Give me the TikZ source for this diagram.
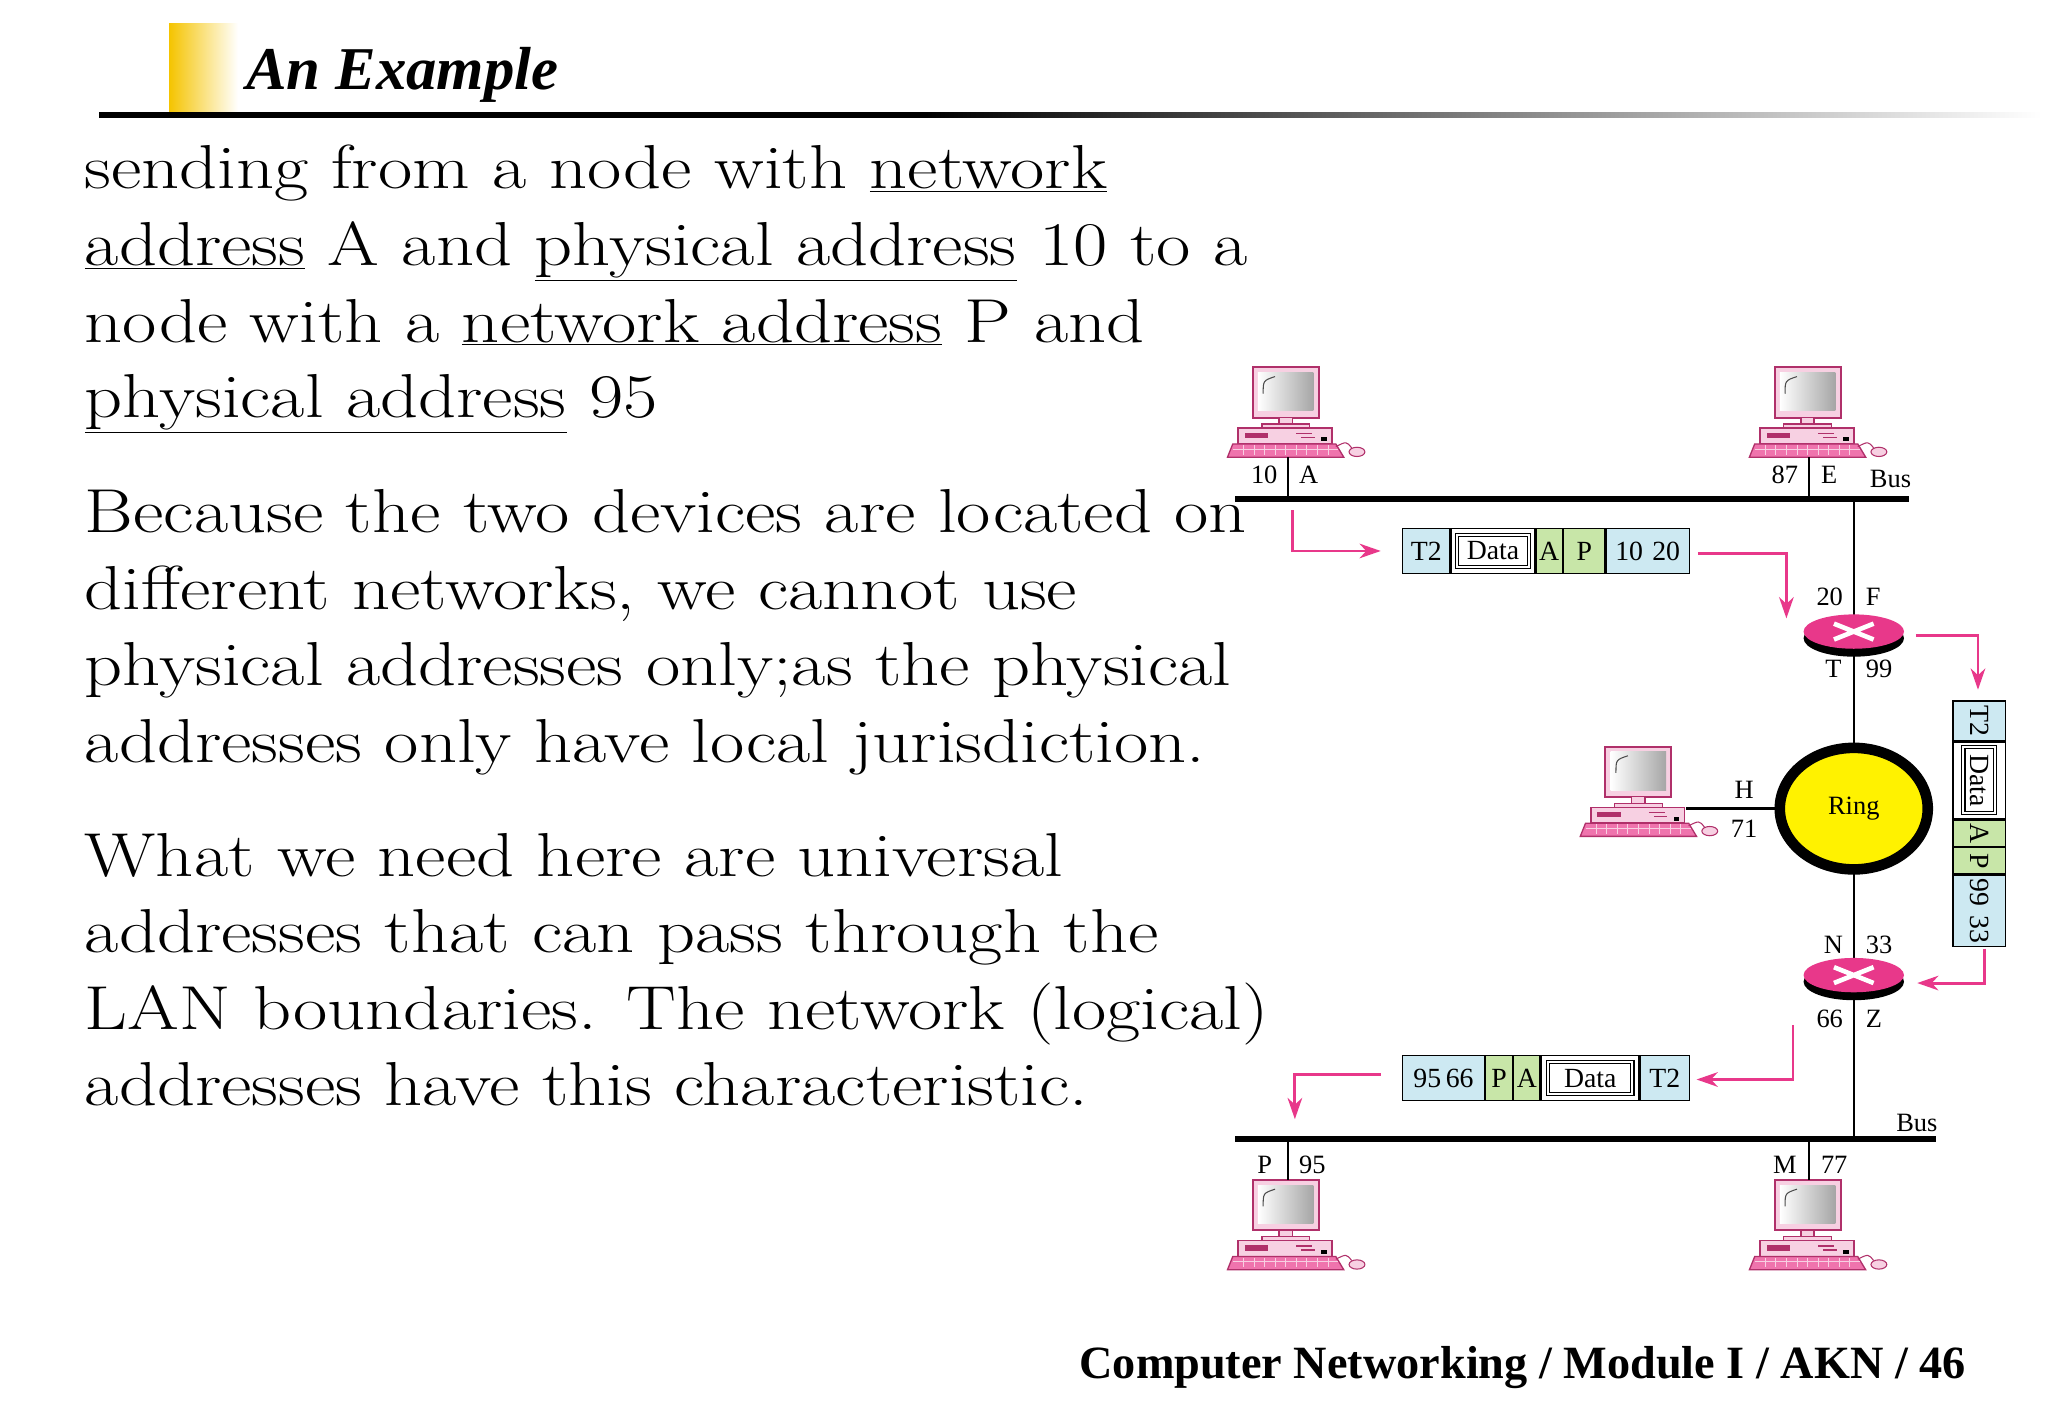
\documentclass[tikz,border=0pt]{standalone}
\usepackage{fontspec}
\usetikzlibrary{arrows.meta,shapes.geometric}
\newfontfamily\tms{Liberation Serif}
\newfontfamily\wide[FakeStretch=1.2]{Latin Modern Roman}
\definecolor{pk}{HTML}{E8388A}
\definecolor{pkd}{HTML}{B0306A}
\definecolor{pkl}{HTML}{F7D0E2}
\definecolor{lb}{HTML}{CDE9F2}
\definecolor{gr}{HTML}{C8E6A8}
\definecolor{gold}{HTML}{F5C400}
\tikzset{
 body/.style={anchor=base west,inner sep=0,font=\wide\fontsize{47}{50}\selectfont},
 lbl/.style={inner sep=0,font=\tms\fontsize{20}{22}\selectfont},
 cell/.style={draw,line width=1,minimum height=34,inner sep=0,anchor=west,font=\tms\fontsize{21}{22}\selectfont},
 vcell/.style={draw,line width=1,minimum width=40,inner sep=0,anchor=north,font=\tms\fontsize{21}{22}\selectfont},
 dbox/.style={draw,double,double distance=1.5,inner sep=0,line width=0.8,font=\tms\fontsize{21}{22}\selectfont},
 arr/.style={pk,line width=2.2,-{Stealth[length=16,width=11,inset=5]}},
 bus/.style={line width=4.5},
 wire/.style={line width=1.8},
 computer/.pic={
  \draw[pkd,line width=1.5,fill=pkl] (-25,0) rectangle (25,38);
  \shade[left color=white,right color=gray!70] (-21,4) rectangle (21,33);
  \draw[gray!60!black,line width=0.8] (-17,20) .. controls (-17,10) .. (-8,7);
  \draw[pkd,fill=pkl,line width=1] (-5,38) rectangle (5,43);
  \draw[pkd,fill=pkl,line width=1] (-18,43) rectangle (18,46);
  \draw[pkd,fill=pkl,line width=1.2] (-36,46) rectangle (35,58);
  \fill[pkd] (-31,49.5) rectangle (-13,53.5);
  \draw[pkd,line width=1] (8,50) -- (20,50) (12,53) -- (22,53);
  \fill[black] (27,53) rectangle (31,56);
  \draw[pkd,fill=pk!70,line width=1] (-40,58) -- (38,58) -- (44,68) -- (-44,68) -- cycle;
  \foreach \k in {-32,-24,...,32} \draw[pkl,line width=0.6] (\k,59) -- (\k,66);
  \draw[pkl,line width=0.6] (-40,62) -- (40,62);
  \draw[pkd,line width=0.8] (38,60) .. controls (46,56) .. (50,61);
  \draw[pkd,fill=pkl,line width=0.8] (54,64) ellipse [x radius=6,y radius=3.5];
 },
 router/.pic={
  \fill[black] (0,5) ellipse [x radius=38,y radius=14];
  \fill[pk] (0,0) ellipse [x radius=38,y radius=13];
  \draw[white,line width=3.5] (-15,-6) -- (15,6) (-15,6) -- (15,-6);
 }
}
\begin{document}
\begin{tikzpicture}[x=1pt,y=-1pt]
\useasboundingbox (0,0) rectangle (1550,1073);
\fill[white] (0,0) rectangle (1550,1073);
% title
\shade[left color=gold,right color=white] (128,18) rectangle (180,88);
\fill[black] (75,85) rectangle (700,89);
\shade[left color=black,right color=white] (700,85) rectangle (1545,89);
\node[anchor=base west,inner sep=0,font=\tms\bfseries\itshape\fontsize{46}{50}\selectfont] (title) at (186,68) {An Example};
% body
\node[body] (l1) at (64,143) {sending from a node with \underline{network}};
\node[body] (l2) at (64,201) {\underline{address} A and \underline{physical address} 10 to a};
\node[body] (l3) at (64,259) {node with a \underline{network address} P and};
\node[body] (l4) at (64,316) {\underline{physical address} 95};
\node[body] (l5) at (64,403) {Because the two devices are located on};
\node[body] (l6) at (64,461) {different networks, we cannot use};
\node[body] (l7) at (64,519) {physical addresses only;as the physical};
\node[body] (l8) at (64,577) {addresses only have local jurisdiction.};
\node[body] (l9) at (64,663) {What we need here are universal};
\node[body] (l10) at (64,721) {addresses that can pass through the};
\node[body] (l11) at (64,779) {LAN boundaries. The network (logical)};
\node[body] (l12) at (64,837) {addresses have this characteristic.};
\node[anchor=base east,inner sep=0,font=\tms\bfseries\fontsize{35}{40}\selectfont] (foot) at (1488,1043) {Computer Networking / Module I / AKN / 46};
% network
\coordinate (tb1) at (935,378); \coordinate (tb2) at (1445,378);
\coordinate (bb1) at (935,862); \coordinate (bb2) at (1465,862);
\coordinate (vt) at (1403,378); \coordinate (vb) at (1403,862);
\draw[wire] (vt) -- (vb);
\draw[bus] (tb1) -- (tb2); \draw[bus] (bb1) -- (bb2);
\node[lbl,anchor=base west] (busT) at (1415,369) {Bus};
\node[lbl,anchor=base west] (busB) at (1435,856) {Bus};
% computers
\pic at (973,278) {computer};
\pic at (1368,278) {computer};
\pic at (1240,565) {computer};
\pic at (973,893) {computer};
\pic at (1368,893) {computer};
\coordinate (ca) at (975,346); \coordinate (ce) at (1369,346);
\coordinate (cp) at (975,893); \coordinate (cm) at (1369,893);
\coordinate (ch) at (1276,612);
\draw[wire] (ca) -- (975,378); \draw[wire] (ce) -- (1369,378);
\draw[wire] (cp) -- (975,862); \draw[wire] (cm) -- (1369,862);
\node[lbl,anchor=base east] at (967,366) {10}; \node[lbl,anchor=base west] at (983,366) {A};
\node[lbl,anchor=base east] at (1361,366) {87}; \node[lbl,anchor=base west] at (1378,366) {E};
\node[lbl,anchor=base east] at (963,888) {P}; \node[lbl,anchor=base west] at (983,888) {95};
\node[lbl,anchor=base east] at (1360,888) {M}; \node[lbl,anchor=base west] at (1378,888) {77};
% ring
\node[ellipse,draw,line width=8,fill=yellow,minimum width=112,minimum height=92,inner sep=0,font=\tms\fontsize{20}{22}\selectfont] (ring) at (1403,612) {Ring};
\draw[wire] (ch) -- (ring.west);
\node[lbl] at (1320,598) {H}; \node[lbl] at (1320,627) {71};
% routers
\pic at (1403,478) {router};
\pic at (1403,738) {router};
\node[lbl,anchor=base east] at (1395,458) {20}; \node[lbl,anchor=base west] at (1412,458) {F};
\node[lbl,anchor=base east] at (1394,513) {T}; \node[lbl,anchor=base west] at (1412,513) {99};
\node[lbl,anchor=base east] at (1395,722) {N}; \node[lbl,anchor=base west] at (1412,722) {33};
\node[lbl,anchor=base east] at (1395,778) {66}; \node[lbl,anchor=base west] at (1412,778) {Z};
% packet 1
\node[cell,fill=lb,minimum width=36] (p1a) at (1061,417) {T2};
\node[cell,fill=white,minimum width=63] (p1b) at (p1a.east) {};
\node[dbox,minimum width=54,minimum height=24] at (p1b) {Data};
\node[cell,fill=gr,minimum width=20] (p1c) at (p1b.east) {A};
\node[cell,fill=gr,minimum width=31] (p1d) at (p1c.east) {P};
\node[cell,fill=lb,minimum width=63] (p1e) at (p1d.east) {10\,\,20};
% packet 3 (vertical)
\node[vcell,fill=lb,minimum height=30] (p3a) at (1498,530) {\rotatebox{-90}{T2}};
\node[vcell,fill=white,minimum height=58] (p3b) at (p3a.south) {};
\node[dbox,minimum width=24,minimum height=50] at (p3b) {\rotatebox{-90}{Data}};
\node[vcell,fill=gr,minimum height=20] (p3c) at (p3b.south) {\rotatebox{-90}{A}};
\node[vcell,fill=gr,minimum height=20] (p3d) at (p3c.south) {\rotatebox{-90}{P}};
\node[vcell,fill=lb,minimum height=54] (p3e) at (p3d.south) {\rotatebox{-90}{99\,\,33}};
% packet 2
\node[cell,fill=lb,minimum width=62] (p2a) at (1061,816) {95\,66};
\node[cell,fill=gr,minimum width=20] (p2b) at (p2a.east) {P};
\node[cell,fill=gr,minimum width=20] (p2c) at (p2b.east) {A};
\node[cell,fill=white,minimum width=74] (p2d) at (p2c.east) {};
\node[dbox,minimum width=64,minimum height=24] at (p2d) {Data};
\node[cell,fill=lb,minimum width=37] (p2e) at (p2d.east) {T2};
% arrows
\coordinate (a1s) at (978,386); \coordinate (a1e) at (1045,417);
\draw[arr] (a1s) |- (a1e);
\coordinate (a2s) at (1285,419); \coordinate (a2e) at (1352,468);
\draw[arr] (a2s) -| (a2e);
\coordinate (a3s) at (1450,481); \coordinate (a3e) at (1497,522);
\draw[arr] (a3s) -| (a3e);
\coordinate (a4s) at (1502,718); \coordinate (a4e) at (1451,744);
\draw[arr] (a4s) |- (a4e);
\coordinate (a5s) at (1357,776); \coordinate (a5e) at (1284,817);
\draw[arr] (a5s) |- (a5e);
\coordinate (a6s) at (1045,813); \coordinate (a6e) at (980,847);
\draw[arr] (a6s) -| (a6e);
\end{tikzpicture}
\end{document}
